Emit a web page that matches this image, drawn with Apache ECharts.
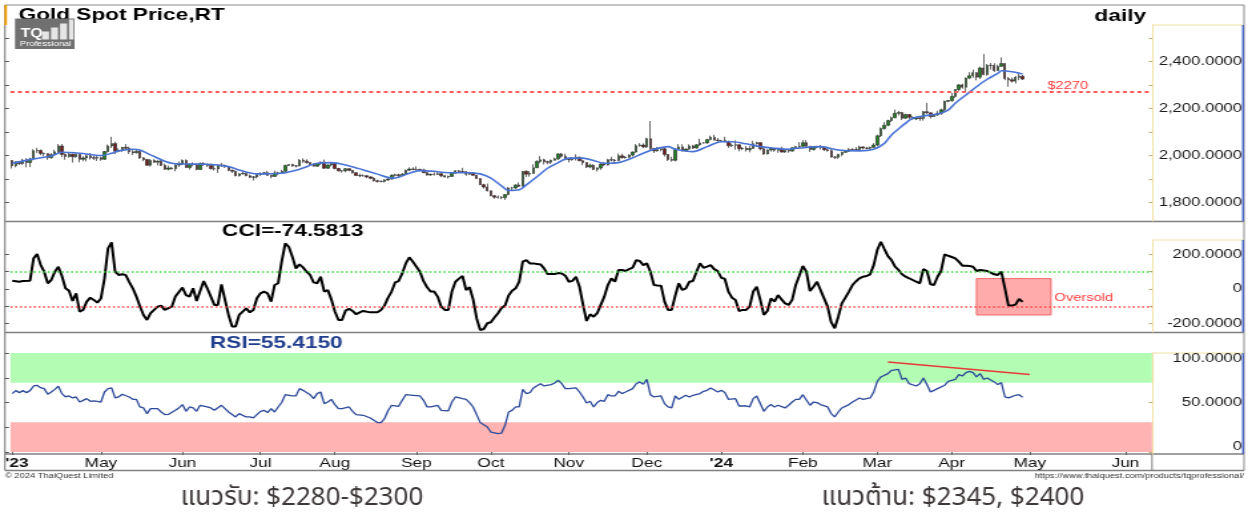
<!DOCTYPE html>
<html>
<head>
<meta charset="utf-8">
<title>Gold Spot Price,RT</title>
<script src="https://cdn.jsdelivr.net/npm/echarts@6/dist/echarts.min.js"></script>
<style>
  html, body { margin: 0; padding: 0; background: #fff; overflow: hidden; }
  /* the source picture is a narrower chart stretched to 1248px wide */
  #chart { width: 938px; height: 517px; transform: scaleX(1.33049); transform-origin: 0 0; }
</style>
</head>
<body>
<div id="chart"></div>
<script>
const S = 1248 / 938;
const X = v => v / S;   // picture x (px) -> chart x

const lastPrice = 2324.83;
const supportLine = 2270;
const lastCci = -74.5813;
const lastRsi = 55.4150;

const priceTicks = [1800, 2000, 2200, 2400];
const cciTicks = [-200, 0, 200];
const rsiTicks = [0, 50, 100];

// month labels on the time axis
const xTicks = [
  ['2023-03-27', "'23"], ['2023-05-01', 'May'], ['2023-06-01', 'Jun'], ['2023-07-03', 'Jul'],
  ['2023-08-01', 'Aug'], ['2023-09-01', 'Sep'], ['2023-10-02', 'Oct'], ['2023-11-01', 'Nov'],
  ['2023-12-01', 'Dec'], ['2024-01-01', "'24"], ['2024-02-01', 'Feb'], ['2024-03-01', 'Mar'],
  ['2024-04-01', 'Apr'], ['2024-05-01', 'May'], ['2024-06-01', 'Jun']
];

// daily candles [open, close, low, high], one row per weekday
const mar23 = [[1978,1956,1944,1980],[1956,1973,1949,1975],[1973,1965,1959,1975],[1965,1980,1959,1985],[1980,1969,1949,1988]];
const apr23 = [[1969,1984,1950,1990],[1984,2020,1979,2026],[2020,2021,2010,2032],[2021,2008,2000,2025],[2008,2007,1996,2012],
  [2007,1990,1981,2010],[1990,2003,1986,2009],[2003,2015,1999,2024],[2015,2040,2010,2048],[2040,2004,1992,2048],
  [2004,1995,1981,2008],[1995,2005,1990,2012],[2005,1994,1969,2007],[1994,2004,1990,2009],[2004,1983,1970,2007],
  [1983,1989,1975,1996],[1989,1998,1974,2004],[1998,1990,1982,2010],[1990,1988,1980,1998],[1988,1990,1976,1999]];
const may23 = [[1990,1983,1977,1994],[1983,2016,1981,2019],[2016,2040,2012,2046],[2040,2050,2031,2079],[2050,2017,2005,2058],
  [2017,2021,2013,2029],[2021,2034,2015,2036],[2034,2030,2022,2048],[2030,2015,2006,2037],[2015,2011,2001,2022],
  [2011,2017,2008,2022],[2017,1989,1985,2020],[1989,1982,1975,1993],[1982,1958,1955,1985],[1958,1978,1952,1984],
  [1978,1971,1967,1984],[1971,1975,1957,1979],[1975,1957,1954,1985],[1957,1941,1938,1965],[1941,1946,1936,1956],
  [1946,1943,1940,1951],[1943,1959,1932,1962],[1959,1963,1950,1974]];
const jun23 = [[1963,1978,1958,1983],[1978,1948,1946,1983],[1948,1961,1939,1966],[1961,1963,1953,1970],[1963,1940,1936,1966],
  [1940,1965,1937,1970],[1965,1961,1955,1971],[1961,1957,1950,1965],[1957,1943,1940,1965],[1943,1942,1935,1959],
  [1942,1958,1925,1961],[1958,1957,1950,1968],[1957,1951,1947,1961],[1951,1936,1932,1955],[1936,1932,1925,1940],
  [1932,1913,1911,1935],[1913,1921,1910,1925],[1921,1923,1918,1930],[1923,1913,1911,1926],[1913,1907,1903,1918],
  [1907,1908,1893,1912],[1908,1919,1902,1921]];
const jul23 = [[1919,1921,1912,1928],[1921,1926,1918,1930],[1926,1915,1912,1934],[1915,1910,1902,1917],[1910,1925,1908,1935],
  [1925,1925,1915,1930],[1925,1932,1923,1938],[1932,1957,1929,1960],[1957,1961,1955,1963],[1961,1955,1951,1964],
  [1955,1955,1948,1958],[1955,1979,1953,1984],[1979,1975,1968,1987],[1975,1969,1965,1983],[1969,1962,1956,1970],
  [1962,1954,1952,1966],[1954,1965,1951,1967],[1965,1971,1958,1974],[1971,1945,1943,1982],[1945,1959,1942,1962],
  [1959,1965,1953,1970]];
const aug23 = [[1965,1944,1940,1966],[1944,1934,1931,1947],[1934,1934,1926,1937],[1934,1943,1928,1946],
  [1943,1936,1932,1945],[1936,1926,1922,1937],[1926,1914,1912,1928],[1914,1913,1907,1922],[1913,1913,1910,1919],
  [1913,1908,1903,1916],[1908,1902,1898,1912],[1902,1892,1888,1908],[1892,1889,1884,1896],[1889,1889,1885,1893],
  [1889,1895,1884,1899],[1895,1899,1891,1904],[1899,1915,1896,1920],[1915,1917,1910,1922],[1917,1914,1904,1922],
  [1914,1920,1913,1924],[1920,1937,1918,1939],[1937,1942,1933,1949],[1942,1940,1937,1949]];
const sep23 = [[1940,1940,1936,1953],
  [1940,1938,1935,1943],[1938,1926,1924,1943],[1926,1916,1914,1929],[1916,1919,1913,1923],[1919,1919,1914,1927],
  [1919,1922,1916,1930],[1922,1913,1907,1925],[1913,1908,1905,1917],[1908,1910,1901,1914],[1910,1924,1908,1928],
  [1924,1934,1921,1937],[1934,1931,1927,1937],[1931,1930,1927,1947],[1930,1920,1913,1933],[1920,1925,1916,1930],
  [1925,1915,1913,1926],[1915,1901,1899,1917],[1901,1875,1873,1903],[1875,1865,1858,1879],[1865,1849,1846,1880]];
const oct23 = [[1849,1828,1826,1850],[1828,1822,1815,1831],[1822,1821,1816,1829],[1821,1820,1813,1826],[1820,1833,1810,1835],
  [1833,1861,1830,1865],[1861,1861,1851,1866],[1861,1874,1857,1876],[1874,1868,1865,1885],[1868,1932,1867,1933],
  [1932,1920,1908,1936],[1920,1923,1909,1933],[1923,1947,1922,1962],[1947,1974,1946,1979],[1974,1981,1966,1997],
  [1981,1973,1961,1986],[1973,1971,1962,1977],[1971,1979,1963,1982],[1979,1985,1977,1990],[1985,2006,1980,2009],
  [2006,1996,1990,2010],[1996,1983,1979,2007]];
const nov23 = [[1983,1982,1970,1988],[1982,1985,1977,1993],[1985,1992,1978,2004],
  [1992,1977,1975,1994],[1977,1969,1958,1982],[1969,1950,1946,1971],[1950,1958,1945,1965],[1958,1940,1937,1962],
  [1940,1946,1931,1949],[1946,1963,1938,1971],[1963,1959,1954,1972],[1959,1981,1957,1985],[1981,1980,1974,1994],
  [1980,1978,1965,1984],[1978,1998,1975,2008],[1998,1990,1986,2007],[1990,1992,1986,1997],[1992,2001,1988,2004],
  [2001,2014,1995,2017],[2014,2041,2011,2048],[2041,2044,2037,2052],[2044,2036,2030,2051]];
const dec23 = [[2036,2071,2031,2075],
  [2071,2029,2019,2146],[2029,2019,2010,2032],[2019,2025,2016,2036],[2025,2028,2017,2034],[2028,2004,1995,2035],
  [2004,1982,1976,2005],[1982,1979,1973,1994],[1979,2027,1974,2030],[2027,2036,2025,2048],[2036,2019,2016,2047],
  [2019,2027,2016,2029],[2027,2040,2023,2047],[2040,2031,2027,2045],[2031,2045,2029,2048],[2045,2053,2040,2071],
  [2053,2053,2050,2056],[2053,2067,2049,2070],[2067,2077,2064,2084],[2077,2065,2063,2088],[2065,2063,2058,2074]];
const jan24 = [[2063,2063,2060,2066],[2063,2058,2055,2079],[2058,2041,2031,2063],[2041,2043,2035,2051],[2043,2045,2024,2064],
  [2045,2028,2017,2046],[2028,2030,2022,2035],[2030,2024,2016,2040],[2024,2029,2013,2040],[2029,2049,2028,2062],
  [2049,2054,2046,2058],[2054,2028,2021,2055],[2028,2006,2002,2031],[2006,2023,2004,2025],[2023,2029,2016,2032],
  [2029,2022,2015,2031],[2022,2029,2011,2031],[2029,2014,2012,2037],[2014,2021,2010,2023],[2021,2018,2011,2028],
  [2018,2032,2016,2036],[2032,2037,2028,2041],[2037,2039,2028,2056]];
const feb24 = [[2039,2054,2035,2065],[2054,2039,2031,2065],
  [2039,2025,2014,2040],[2025,2035,2020,2038],[2035,2035,2030,2041],[2035,2034,2025,2044],[2034,2024,2018,2037],
  [2024,2020,2016,2029],[2020,1993,1990,2030],[1993,1992,1984,1996],[1992,2004,1985,2007],[2004,2013,1996,2016],
  [2013,2017,2010,2022],[2017,2025,2014,2031],[2025,2025,2018,2030],[2025,2024,2019,2035],[2024,2036,2020,2041],
  [2036,2031,2025,2038],[2031,2030,2025,2036],[2030,2034,2025,2037],[2034,2044,2030,2052]];
const mar24 = [[2044,2083,2038,2088],
  [2083,2114,2078,2119],[2114,2128,2109,2141],[2128,2148,2124,2152],[2148,2160,2142,2165],[2160,2179,2158,2195],
  [2179,2182,2170,2189],[2182,2158,2150,2185],[2158,2174,2156,2177],[2174,2162,2154,2175],[2162,2155,2152,2166],
  [2155,2160,2150,2164],[2160,2157,2147,2163],[2157,2186,2148,2189],[2186,2181,2176,2223],[2181,2165,2157,2183],
  [2165,2172,2163,2176],[2172,2179,2168,2190],[2179,2194,2172,2199],[2194,2230,2185,2233],[2230,2233,2226,2236]];
const apr24 = [[2233,2251,2228,2266],[2251,2280,2245,2282],[2280,2300,2273,2304],[2300,2290,2284,2305],[2290,2329,2268,2331],
  [2329,2339,2324,2354],[2339,2352,2330,2365],[2352,2333,2319,2354],[2333,2372,2325,2378],[2372,2344,2341,2431],
  [2344,2383,2339,2389],[2383,2383,2365,2393],[2383,2361,2355,2392],[2361,2379,2359,2386],[2379,2391,2376,2417],
  [2391,2327,2320,2391],[2327,2322,2292,2334],[2322,2316,2310,2331],[2316,2332,2306,2338],[2332,2337,2320,2353],
  [2337,lastPrice,2321,2342]];

// moving average, [day index, value]
const maPts = [[0,1966],[6,1985],[11,1997],[14,2013],[19,2009],[25,1999],[28,2009],[30,2019],[34,2026],[36,2023],
  [39,2002],[45,1966],[49,1963],[55,1962],[61,1952],[64,1938],[69,1921],[76,1924],[81,1941],[86,1966],[90,1969],
  [95,1955],[99,1938],[103,1920],[107,1903],[109,1907],[115,1935],[119,1932],[123,1926],[128,1926],[132,1921],
  [135,1903],[138,1870],[140,1850],[143,1853],[145,1874],[148,1909],[151,1945],[154,1969],[157,1988],[161,1988],
  [164,1978],[167,1966],[171,1969],[174,1983],[178,2009],[181,2026],[185,2037],[187,2026],[192,2016],[196,2037],
  [200,2058],[203,2058],[207,2049],[211,2037],[215,2030],[219,2026],[222,2031],[228,2037],[233,2023],[239,2019],
  [243,2026],[246,2051],[248,2087],[251,2125],[254,2158],[257,2168],[261,2176],[264,2193],[266,2222],[269,2257],
  [272,2292],[275,2324],[278,2349],[279,2360],[282,2356],[285,2346]];

// CCI, [day index, value]
const cciPts = [[0,48],[2,42],[3,46],[5,48],[6,177],[7,202],[8,140],[9,100],[10,33],[11,52],[12,100],[13,129],[14,75],
  [15,4],[16,-10],[17,-69],[18,-25],[19,-131],[20,-121],[21,-73],[22,-50],[23,-63],[24,-79],[25,-55],[26,60],[27,235],
  [28,269],[29,100],[30,81],[31,85],[32,81],[33,40],[34,4],[35,-44],[36,-100],[37,-150],[38,-179],[39,-140],[41,-102],
  [42,-96],[43,-121],[45,-102],[46,-44],[48,8],[49,-35],[50,-44],[51,4],[52,-69],[54,46],[55,4],[57,-92],[58,-92],
  [59,27],[60,-63],[61,-150],[62,-217],[63,-217],[64,-150],[66,-112],[67,-135],[68,-121],[69,-54],[70,-25],[71,-15],
  [72,-25],[73,-73],[74,23],[75,33],[76,158],[77,263],[78,244],[79,187],[80,119],[81,142],[82,125],[83,100],[84,81],
  [85,38],[86,33],[87,71],[88,-15],[89,-6],[90,-60],[91,-130],[92,-179],[93,-179],[94,-125],[95,-115],[96,-127],
  [97,-146],[98,-135],[99,-127],[101,-135],[103,-135],[104,-121],[105,-95],[106,-50],[107,-15],[108,38],[109,46],
  [110,90],[111,148],[112,183],[113,158],[114,129],[115,100],[116,45],[117,10],[118,-15],[119,-15],[120,-44],
  [121,-102],[122,-121],[123,-121],[124,-15],[125,42],[126,60],[127,75],[128,-6],[129,10],[130,-60],[131,-170],
  [132,-237],[133,-231],[134,-198],[135,-192],[136,-165],[137,-140],[138,-110],[139,-95],[140,-38],[141,-10],[142,4],
  [143,42],[144,158],[145,167],[146,148],[147,148],[148,145],[149,142],[150,119],[151,87],[152,87],[153,87],[154,92],
  [155,90],[156,77],[157,42],[158,47],[159,71],[160,13],[161,-92],[162,-185],[163,-146],[164,-160],[165,-140],
  [166,-92],[167,-44],[168,23],[169,62],[170,42],[171,110],[172,110],[173,104],[174,115],[175,123],[176,167],
  [177,162],[178,138],[179,148],[180,100],[181,23],[182,20],[183,19],[184,-73],[185,-121],[186,-121],[187,-40],
  [188,33],[189,-6],[190,4],[191,42],[192,46],[193,100],[194,148],[195,123],[196,129],[197,138],[198,115],[199,104],
  [200,65],[201,58],[202,-15],[203,-50],[204,-63],[205,-127],[206,-121],[207,-121],[208,-102],[209,-15],[210,13],
  [211,-63],[212,-150],[213,-127],[214,-54],[215,-73],[216,-35],[217,-60],[218,-83],[219,-92],[220,-63],[221,23],
  [222,77],[223,133],[224,100],[225,-12],[226,13],[227,42],[228,-6],[229,-54],[230,-102],[231,-192],[232,-227],
  [233,-160],[234,-83],[235,-50],[236,-15],[237,23],[238,45],[239,62],[240,71],[241,75],[242,85],[243,138],[244,225],
  [245,273],[246,231],[247,190],[248,167],[249,129],[250,110],[251,85],[252,71],[253,62],[254,52],[255,42],[256,33],
  [257,115],[258,104],[259,27],[260,23],[261,71],[262,104],[263,200],[264,192],[265,185],[266,177],[267,158],
  [268,135],[269,134],[270,133],[271,129],[272,104],[273,110],[274,107],[275,104],[276,95],[277,85],[278,81],
  [279,100],[280,4],[281,-96],[282,-96],[283,-90],[284,-58],[285,lastCci]];

// RSI, [day index, value]
const rsiPts = [[0,59],[1,62],[2,60],[3,62],[4,60],[5,62],[6,66.7],[7,67.4],[8,65],[9,64],[10,58.3],[11,60.6],
  [12,63.3],[13,66.4],[14,59],[15,55.6],[16,56.6],[17,54.6],[18,55.6],[19,50.5],[20,52.2],[21,53.9],[22,51.2],
  [23,51.6],[24,51.2],[25,50.5],[26,60.6],[27,64],[28,64.7],[29,54.6],[30,55.6],[31,58.3],[33,55.6],[34,53.2],
  [35,53.2],[36,45.5],[37,44.5],[38,38.8],[39,43.8],[41,43.8],[42,40.4],[43,37.8],[44,38],[46,42.1],[47,44.5],
  [48,47.9],[49,41.1],[50,45.5],[51,44.5],[52,41.1],[53,47.2],[55,45.5],[56,44.5],[57,42.1],[59,47.2],[60,43.8],
  [61,40.4],[63,35.4],[64,38.8],[66,35.4],[67,35.4],[68,34.4],[70,41.1],[71,42.1],[72,39.8],[73,43.8],[74,40.4],
  [75,45.5],[76,50],[77,57.9],[79,56.6],[80,56.6],[81,64],[82,62.3],[84,57.9],[85,53.9],[86,59],[87,60.6],[88,48.9],
  [89,50.5],[90,53.2],[91,47.9],[92,43.8],[93,43.8],[95,45.5],[96,41.1],[97,37.8],[99,37.1],[101,34.4],[103,29.7],
  [104,29.7],[105,33.7],[106,42],[107,47.2],[109,46.2],[110,52.2],[111,57.9],[113,57.3],[115,56.6],[116,52.2],
  [117,45.5],[118,45.5],[120,47.2],[121,42.1],[123,41.5],[124,50.5],[125,55.6],[127,53.9],[128,53.2],[129,49.9],
  [130,45.5],[131,37.8],[132,29.7],[134,25.3],[135,20.2],[137,18.6],[138,19],[139,27],[140,40.4],[141,42.1],
  [142,45.5],[143,45.5],[144,63.3],[145,59],[146,60],[147,64.7],[148,67],[149,69],[150,66.7],[152,68.1],[153,69.7],
  [154,72.4],[155,69],[156,64],[157,64],[159,64.7],[160,60.6],[161,55.6],[162,49.5],[163,51.2],[164,45.5],[165,49.9],
  [166,52.2],[167,51.2],[168,57.9],[169,56.6],[170,56.6],[171,61.3],[172,59],[173,60.6],[175,64],[176,69],[177,70.8],
  [178,68.5],[179,73.4],[180,57.9],[181,55.6],[183,56.6],[184,48.9],[185,45.5],[186,44.5],[187,56.6],[188,53.2],
  [190,57.3],[191,55.6],[192,57.3],[194,59],[195,61.3],[196,62.3],[197,64.7],[199,60.6],[200,62.3],[201,60],
  [202,53.2],[204,53.9],[205,46.5],[207,46.5],[208,45.5],[209,53.9],[210,56.6],[212,41.1],[213,45.5],[214,47.9],
  [215,45.5],[216,47.2],[218,44.5],[219,47.2],[220,50.5],[221,53.2],[222,53.2],[223,57.9],[225,47.2],[226,50.5],
  [227,49.9],[228,47.9],[230,45.5],[231,38.8],[232,35.4],[233,40.4],[234,44.5],[236,47.9],[237,50.5],[239,54.6],
  [240,53.2],[242,54.6],[243,60.6],[244,71.4],[245,75.8],[247,79.2],[248,82.5],[250,83.5],[251,73.4],[252,74.8],
  [253,69],[255,66.7],[256,69],[257,74.8],[258,68.1],[259,60.6],[260,62.3],[261,64],[263,67.4],[264,71.4],[266,73.4],
  [267,78.2],[268,76.8],[269,80.2],[270,81.5],[271,80.2],[272,75.8],[273,79.2],[274,73.4],[275,74.8],[277,70.8],
  [278,68.1],[279,70.1],[280,55.6],[281,54.6],[283,57.3],[284,57.9],[285,lastRsi]];

// RSI trend line, [day index, value]
const rsiTrend = [[247, 90.9], [287, 78.2]];

const candles = [].concat(mar23, apr23, may23, jun23, jul23, aug23, sep23, oct23, nov23, dec23, jan24, feb24, mar24, apr24);

// weekday categories for the data, then the empty future part of the axis
const cats = [];
const d = new Date(Date.UTC(2023, 2, 27));
while (cats.length < candles.length) {
  const w = d.getUTCDay();
  if (w > 0 && w < 6) cats.push(d.toISOString().slice(0, 10));
  d.setUTCDate(d.getUTCDate() + 1);
}
while (cats.length < 322) {
  if (d.getUTCDay() !== 0) cats.push(d.toISOString().slice(0, 10));
  d.setUTCDate(d.getUTCDate() + 1);
}
const tickAt = {};
xTicks.forEach(t => { tickAt[t[0]] = t[1]; });

function fmt(v) {
  if (v === 0) return '0';
  const p = Math.abs(v).toFixed(4).split('.');
  return (v < 0 ? '-' : '') + p[0].replace(/\B(?=(\d{3})+(?!\d))/g, ',') + '.' + p[1];
}

const FONT = '"Liberation Sans", Arial, sans-serif';
const GRID_L = X(10.5), GRID_W = X(1141.5);
const panels = [
  { top: 25, height: 196, min: 1720.4, max: 2555, ticks: priceTicks, minor: [1800,1900,2000,2100,2200,2300,2400,2500] },
  { top: 240, height: 92, min: -248.6, max: 283.2, ticks: cciTicks, minor: [-200,-100,0,100,200] },
  { top: 353, height: 101, min: -2, max: 100, ticks: rsiTicks, minor: [0,25,50,75,100] }
];

const rightAxis = (p, i) => ({
  type: 'value', gridIndex: i, position: 'right', min: p.min, max: p.max,
  splitLine: { show: false },
  axisLine: { show: true, lineStyle: { color: '#f1e1a4', width: 1 } },
  axisTick: { show: true, inside: true, length: X(3), customValues: p.minor, lineStyle: { color: '#b9a66a' } },
  axisLabel: {
    customValues: p.ticks, align: 'right', margin: X(90), fontFamily: FONT, fontSize: 12.5, color: '#1a1a1a',
    formatter: v => (i === 2 && v === 100) ? '{dn|100.0000}' : (i === 2 && v === 0) ? '{up|0}' : fmt(v),
    rich: {
      dn: { fontFamily: FONT, fontSize: 12.5, color: '#1a1a1a', padding: [12, 0, 0, 0] },
      up: { fontFamily: FONT, fontSize: 12.5, color: '#1a1a1a', padding: [0, 0, 11, 0] }
    }
  }
});
const leftAxis = (p, i) => ({
  type: 'value', gridIndex: i, position: 'left', offset: X(5.5), min: p.min, max: p.max,
  splitLine: { show: false }, axisLine: { show: false }, axisLabel: { show: false },
  axisTick: { show: true, inside: true, length: X(4), customValues: p.minor, lineStyle: { color: '#555' } }
});

const hline = (x1, x2, y, color, w) => ({ type: 'line', silent: true, shape: { x1: X(x1), y1: y, x2: X(x2), y2: y }, style: { stroke: color, lineWidth: w } });
const vline = (x, y1, y2, color, w) => ({ type: 'line', silent: true, shape: { x1: X(x), y1: y1, x2: X(x), y2: y2 }, style: { stroke: color, lineWidth: w } });
const label = (x, y, text, font, fill, align) => ({ type: 'text', silent: true, x: X(x), y: y, style: { text, font, fill, align: align || 'left', verticalAlign: 'middle' } });

const option = {
  backgroundColor: '#fff',
  animation: false,
  grid: panels.map(p => ({ left: GRID_L, width: GRID_W, top: p.top, height: p.height, containLabel: false, outerBoundsMode: 'none' })),
  xAxis: [0, 1, 2].map(i => ({
    type: 'category', gridIndex: i, data: cats, boundaryGap: true, show: i === 2,
    axisLine: { show: false },
    axisTick: { show: true, alignWithLabel: true, length: 3, interval: (n, v) => tickAt[v] !== undefined, lineStyle: { color: '#666' } },
    axisLabel: {
      interval: (n, v) => tickAt[v] !== undefined, hideOverlap: false, margin: 3,
      fontFamily: FONT, fontSize: 13, color: '#111',
      formatter: v => { const t = tickAt[v]; return t === "'23" ? '{a|' + t + '}' : t.charAt(0) === "'" ? '{b|' + t + '}' : t; },
      rich: {
        a: { fontFamily: FONT, fontSize: 13, fontWeight: 'bold', color: '#111', padding: [0, 0, 0, 7] },
        b: { fontFamily: FONT, fontSize: 13, fontWeight: 'bold', color: '#111' }
      }
    }
  })),
  yAxis: panels.map(rightAxis).concat(panels.map(leftAxis)),
  series: [
    {
      type: 'candlestick', xAxisIndex: 0, yAxisIndex: 0, data: candles, barWidth: 1.9,
      itemStyle: { color: '#178a17', color0: '#7c1313', borderColor: '#2d2d2d', borderColor0: '#2d2d2d', borderWidth: 0.7 },
      markLine: {
        silent: true, symbol: ['none', 'none'],
        data: [
          { yAxis: supportLine, lineStyle: { color: '#ff5a5a', type: [3, 2.5], width: 2 }, label: { show: false } },
          { yAxis: lastPrice, lineStyle: { opacity: 0 },
            label: { show: true, position: 'end', distance: X(2), formatter: fmt(lastPrice), fontFamily: FONT, fontSize: 12.5,
              color: '#fff', backgroundColor: '#3466d8', padding: [1, 1, 0, 2] } }
        ]
      },
      markPoint: {
        silent: true, symbolSize: 0,
        data: [{ coord: [292, supportLine], label: { show: true, position: 'right', distance: 0, offset: [0, -6], formatter: '$' + supportLine,
          fontFamily: FONT, fontSize: 11, color: '#ff3a3a' } }]
      }
    },
    {
      type: 'line', xAxisIndex: 0, yAxisIndex: 0, data: maPts, smooth: 0.3, showSymbol: false, silent: true,
      lineStyle: { color: '#4a73d6', width: 1.6 }
    },
    {
      type: 'line', xAxisIndex: 1, yAxisIndex: 1, data: cciPts, showSymbol: false, silent: true,
      lineStyle: { color: '#000', width: 2 },
      markLine: {
        silent: true, symbol: ['none', 'none'], label: { show: false },
        data: [
          { yAxis: 100, lineStyle: { color: '#33dd33', type: [1.5, 2], width: 1.5 } },
          { yAxis: -100, lineStyle: { color: '#ff4040', type: [1.5, 2], width: 1.5 } }
        ]
      },
      markArea: {
        silent: true,
        data: [[{ coord: [272, 60], itemStyle: { color: 'rgba(255,120,120,0.62)', borderColor: '#ee6a6a', borderWidth: 1 } }, { coord: [293, -150] }]]
      },
      markPoint: {
        silent: true, symbolSize: 0,
        data: [{ coord: [294, -52], label: { show: true, position: 'right', distance: 0, formatter: 'Oversold',
          fontFamily: FONT, fontSize: 11, color: '#ff3a3a' } }]
      }
    },
    {
      type: 'line', xAxisIndex: 2, yAxisIndex: 2, data: rsiPts, showSymbol: false, silent: true,
      lineStyle: { color: '#2d4a9a', width: 1.3 },
      markArea: {
        silent: true, label: { show: false },
        data: [
          [{ yAxis: 70, itemStyle: { color: '#b3fcb3' } }, { yAxis: 100 }],
          [{ yAxis: 0, itemStyle: { color: '#ffb3b3' } }, { yAxis: 30 }]
        ]
      },
      markLine: {
        silent: true, symbol: ['none', 'none'], label: { show: false },
        data: [[{ coord: rsiTrend[0], lineStyle: { color: '#e83a3a', width: 1.5, type: 'solid' } }, { coord: rsiTrend[1] }]]
      }
    }
  ],
  graphic: [
    // frame and panel separators
    hline(5, 1244, 5, '#8a8a8a', 1.2),
    vline(5, 5, 470.5, '#6f6f6f', 1),
    vline(1244, 5, 470.5, '#8a8a8a', 1),
    { type: 'rect', silent: true, shape: { x: X(4.5), y: 5, width: X(2.5), height: 20 }, style: { fill: '#f5a000' } },
    hline(5, 1244, 221.5, '#808080', 1.6),
    hline(5, 1244, 332.5, '#808080', 1.6),
    hline(5, 1244, 454, '#808080', 1.4),
    hline(5, 1244, 470.5, '#808080', 1.4),
    hline(1152, 1243, 25, '#f1e1a4', 1),
    hline(1152, 1243, 240, '#f1e1a4', 1),
    hline(1152, 1243, 353, '#f1e1a4', 1),
    vline(1243, 25, 221, '#3a58c8', 1.3),
    vline(1243, 240, 332, '#3a58c8', 1.3),
    vline(1243, 353, 454, '#3a58c8', 1.3),
    vline(1152, 454, 470.5, '#808080', 1),
    // titles
    label(18.5, 15.5, 'Gold Spot Price,RT', 'bold 17px ' + FONT, '#000'),
    label(1146, 16, 'daily', 'bold 17px ' + FONT, '#000', 'right'),
    label(222, 231.5, 'CCI=' + lastCci.toFixed(4), 'bold 17px ' + FONT, '#000'),
    label(210, 343, 'RSI=' + lastRsi.toFixed(4), 'bold 17px ' + FONT, '#23408f'),
    // logo
    {
      type: 'group', x: X(15), y: 18.5, silent: true,
      children: [
        { type: 'rect', shape: { x: 0, y: 0, width: X(59.5), height: 30.5 }, style: { fill: '#707070' } },
        { type: 'rect', shape: { x: X(27), y: 13, width: X(7), height: 8 }, style: { fill: '#e6e6e6' } },
        { type: 'rect', shape: { x: X(36), y: 9, width: X(7), height: 12 }, style: { fill: '#e6e6e6' } },
        { type: 'rect', shape: { x: X(45), y: 5, width: X(7), height: 16 }, style: { fill: '#e6e6e6' } },
        { type: 'rect', shape: { x: X(54), y: 1, width: X(4.5), height: 20 }, style: { fill: '#e6e6e6' } },
        { type: 'text', x: X(5.5), y: 15, style: { text: 'TQ', font: 'bold 12px ' + FONT, fill: '#fff', verticalAlign: 'middle' } },
        { type: 'text', x: X(5), y: 25.5, style: { text: 'Professional', font: '7px ' + FONT, fill: '#fff', verticalAlign: 'middle' } }
      ]
    },
    // footer
    label(5, 476, '\u00a9 2024 ThaiQuest Limited', '7px ' + FONT, '#333'),
    label(1244, 476.5, 'https://www.thaiquest.com/products/tqprofessional/', '7px ' + FONT, '#333', 'right'),
    // support / resistance notes (not stretched)
    { type: 'text', silent: true, x: X(302), y: 500, scaleX: 1 / S,
      style: { text: 'แนวรับ: $2280-$2300', font: '26px "Noto Sans Thai", "Noto Sans", sans-serif', fill: '#3d3737', align: 'center', verticalAlign: 'middle' } },
    { type: 'text', silent: true, x: X(953), y: 500, scaleX: 1 / S,
      style: { text: 'แนวต้าน: $2345, $2400', font: '26px "Noto Sans Thai", "Noto Sans", sans-serif', fill: '#3d3737', align: 'center', verticalAlign: 'middle' } }
  ]
};

const chart = echarts.init(document.getElementById('chart'));
chart.setOption(option);
</script>
</body>
</html>
